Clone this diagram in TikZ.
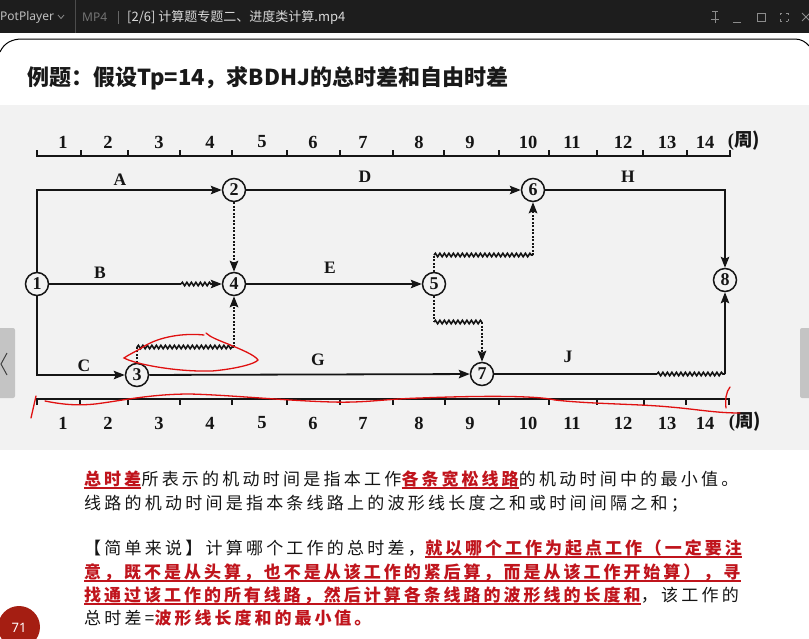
\documentclass[tikz,border=0pt]{standalone}
\usepackage{fontspec}
\usetikzlibrary{arrows.meta,decorations.pathmorphing}
\setmainfont{Liberation Serif}
\newfontfamily\cjk{Noto Sans CJK SC}
\newfontfamily\cjkbody[LetterSpace=19]{Noto Sans CJK SC}
\newfontfamily\cjkred[LetterSpace=17.5]{Noto Sans CJK SC}
\newfontfamily\uisans{Noto Sans}
\definecolor{ink}{HTML}{151515}
\definecolor{barbg}{HTML}{1D1D1D}
\definecolor{diagbg}{HTML}{F2F2F2}
\definecolor{txtred}{HTML}{C0141C}
\definecolor{annred}{HTML}{E01010}
\definecolor{pagebadge}{HTML}{A51E12}
\begin{document}
\begin{tikzpicture}[x=1pt,y=-1pt,
  ln/.style={line width=1.8pt, draw=ink},
  arr/.style={ln, -{Stealth[length=11pt,width=8.5pt,inset=2pt]}},
  dsh/.style={line width=2pt, dash pattern=on 2pt off 1.5pt},
  wav/.style={ln, line width=1.6pt, decorate, decoration={snake, amplitude=1.7pt, segment length=4.5pt}},
  ev/.style={circle, draw=ink, line width=1.5pt, minimum size=23pt, inner sep=0pt,
    fill=diagbg, text=ink, font=\bfseries\fontsize{18}{18}\selectfont},
  lab/.style={text=ink, inner sep=0pt, font=\bfseries\fontsize{17.5}{17.5}\selectfont},
  num/.style={text=ink, inner sep=0pt, font=\bfseries\fontsize{18.5}{18.5}\selectfont},
  body/.style={inner sep=0pt, anchor=base west, text=ink, font=\cjkbody\fontsize{17}{20}\selectfont},
  rbody/.style={body, text=txtred, font=\cjkred\bfseries\fontsize{17}{20}\selectfont},
  ul/.style={draw=txtred, line width=1.5pt},
  ann/.style={draw=annred, line width=1.3pt, line cap=round},
  ui/.style={draw=black!45, line width=1pt}
]
\useasboundingbox (0,0) rectangle (809,638);
% backgrounds
\fill[white] (0,0) rectangle (809,638);
\fill[diagbg] (0,105) rectangle (809,450);
\fill[barbg] (0,0) rectangle (809,33);
% title bar
\node[anchor=west, inner sep=0pt, text=black!25, font=\uisans\fontsize{12}{12}\selectfont] (app) at (0,17) {PotPlayer};
\draw[draw=black!45, line width=0.8pt] (58,15) -- (61,18.5) -- (64,15);
\draw[draw=black!70, line width=0.8pt] (75,0) -- (75,33);
\node[anchor=west, inner sep=0pt, text=black!55, font=\uisans\fontsize{12}{12}\selectfont] (fmt) at (82,17) {MP4};
\draw[draw=black!60, line width=0.6pt] (118,11) -- (118,24);
\node[anchor=west, inner sep=0pt, text=black!15, font=\cjk\fontsize{13}{13}\selectfont] (vid) at (127,17) {[2/6] 计算题专题二、进度类计算.mp4};
\draw[ui] (712,11) -- (718,11) (715,11) -- (715,23) (711,19) -- (719,19);
\draw[ui] (733,22) -- (741,22);
\draw[ui] (757,13) rectangle (765,21);
\draw[draw=black!45, line width=0.7pt] (780,13) -- (780,15) (780,13) -- (782,13) (788,13) -- (786,13) (788,13) -- (788,15)
  (780,21) -- (780,19) (780,21) -- (782,21) (788,21) -- (786,21) (788,21) -- (788,19);
\draw[ui] (802,13) -- (810,21) (802,21) -- (810,13);
% slide frame
\draw[draw=black, line width=1pt] (0,52) .. controls (4,43) and (12,39) .. (22,39) -- (795,39) .. controls (801,39) and (806,42) .. (809,46);
% title
\node[anchor=west, inner sep=0pt, text=black!90, font=\cjk\bfseries\fontsize{22}{24}\selectfont] (title) at (27,78) {例题：假设Tp=14，求BDHJ的总时差和自由时差};
% time scales
\draw[ln] (37,150) -- (37,156) -- (730,156) -- (730,150);
\foreach \t in {81,128,180,232,287,340,393,444,499,549,597,643,687} \draw[ln] (\t,156) -- (\t,150);
\draw[ln] (37,405) -- (37,399) -- (729,399) -- (729,405);
\foreach \t in {80,128,180,232,287,340,393,445,499,549,597,644,686} \draw[ln] (\t,399) -- (\t,405);
\foreach \x/\n in {63/1,108/2,159/3,210/4,262/5,313/6,363/7,419/8,470/9,528/10,572/11,623/12,667/13,705/14} {
  \node[num] (top\n) at (\x,142) {\n};
  \node[num] (bot\n) at (\x,423) {\n};
}
\node[num] (topunit) at (744,141) {(\cjk 周\/)};
\node[num] (botunit) at (745,422) {(\cjk 周\/)};
% events
\node[ev] (n1) at (37,284) {1};
\node[ev] (n2) at (234,190) {2};
\node[ev] (n3) at (137,375) {3};
\node[ev] (n4) at (234,284) {4};
\node[ev] (n5) at (434,284) {5};
\node[ev] (n6) at (533,190) {6};
\node[ev] (n7) at (482,374) {7};
\node[ev] (n8) at (725,280) {8};
% helper points
\coordinate (b1) at (181,284);
\coordinate (b2) at (213,284);
\coordinate (f1) at (137,347);
\coordinate (f2) at (234,347);
\coordinate (u1) at (434,255);
\coordinate (u2) at (533,255);
\coordinate (d1) at (434,322);
\coordinate (d2) at (482,322);
\coordinate (j1) at (657,374);
\coordinate (j2) at (725,374);
% activities
\draw[arr] (n1.north) |- (n2);
\draw[ln] (n1) -- (b1);
\draw[wav] (b1) -- (b2);
\draw[arr] (b2) -- (n4);
\draw[arr] (n1.south) |- (n3);
\draw[arr, dsh] (n2) -- (n4);
\draw[arr] (n2) -- (n6);
\draw[arr] (n4) -- (n5);
\draw[arr] (n6) -| (n8);
\draw[ln, dsh] (n5) -- (u1);
\draw[wav] (u1) -- (u2);
\draw[arr, dsh] (u2) -- (n6);
\draw[ln, dsh] (n5) -- (d1);
\draw[wav] (d1) -- (d2);
\draw[arr, dsh] (d2) -- (n7);
\draw[ln, dsh] (n3) -- (f1);
\draw[wav] (f1) -- (f2);
\draw[arr, dsh] (f2) -- (n4);
\draw[arr] (n3) -- (n7);
\draw[ln] (n7) -- (j1);
\draw[wav] (j1) -- (j2);
\draw[arr] (j2) -- (n8);
% labels
\node[lab] (lA) at (120,180) {A};
\node[lab] (lB) at (100,273) {B};
\node[lab] (lC) at (84,366) {C};
\node[lab] (lD) at (365,177) {D};
\node[lab] (lE) at (330,268) {E};
\node[lab] (lG) at (318,360) {G};
\node[lab] (lH) at (628,177) {H};
\node[lab] (lJ) at (568,357) {J};
% red annotations
\draw[ann] (204,335) .. controls (185,333) and (160,336) .. (143,347) .. controls (135,352) and (128,355) .. (124,358)
  .. controls (135,364) and (175,372) .. (212,371) .. controls (235,369) and (255,364) .. (258,360)
  .. controls (255,355) and (240,349) .. (228,344) .. controls (218,340) and (210,337) .. (206,333);
\draw[ann] (45,401) .. controls (60,404) and (75,406) .. (95,404) .. controls (120,401) and (150,394) .. (190,394)
  .. controls (230,395) and (290,401) .. (333,402) .. controls (365,403) and (385,399) .. (420,398)
  .. controls (470,396) and (535,395) .. (555,400) .. controls (590,404) and (640,404) .. (670,407)
  .. controls (695,409) and (715,413) .. (740,413);
\draw[ann] (36,396) -- (31,418);
\draw[ann] (730,387) .. controls (726,392) and (725,400) .. (726,408);
% navigation buttons
\fill[black!35, opacity=0.6, rounded corners=2pt] (-4,328) rectangle (15,398);
\draw[draw=black!75, line width=1pt] (7,353) -- (1,364) -- (7,375);
\fill[black!35, opacity=0.6, rounded corners=2pt] (800,328) rectangle (813,398);
% body text
\node[rbody] (l1a) at (84,485) {总时差};
\node[body] (l1b) at (l1a.base east) {所表示的机动时间是指本工作};
\node[rbody] (l1c) at (l1b.base east) {各条宽松线路};
\node[body] (l1d) at (l1c.base east) {的机动时间中的最小值。};
\node[body] (l2) at (84,509) {线路的机动时间是指本条线路上的波形线长度之和或时间间隔之和；};
\node[body] (l3a) at (84,554) {【简单来说】计算哪个工作的总时差，};
\node[rbody] (l3b) at (l3a.base east) {就以哪个工作为起点工作（一定要注};
\node[rbody] (l4) at (84,578) {意，既不是从头算，也不是从该工作的紧后算，而是从该工作开始算），寻};
\node[rbody] (l5a) at (84,601) {找通过该工作的所有线路，然后计算各条线路的波形线的长度和};
\node[body] (l5b) at (l5a.base east) {，该工作的};
\node[body] (l6a) at (84,624) {总时差=};
\node[rbody] (l6b) at (l6a.base east) {波形线长度和的最小值。};
\foreach \n in {l1a,l1c,l3b,l4,l5a} \draw[ul] ([yshift=-3pt]\n.base west) -- ([yshift=-3pt]\n.base east);
% page badge
\fill[pagebadge] (19,627) circle (21);
\node[inner sep=0pt, text=white, font=\uisans\fontsize{13}{13}\selectfont] (pg) at (19,628) {71};
\end{tikzpicture}
\end{document}
